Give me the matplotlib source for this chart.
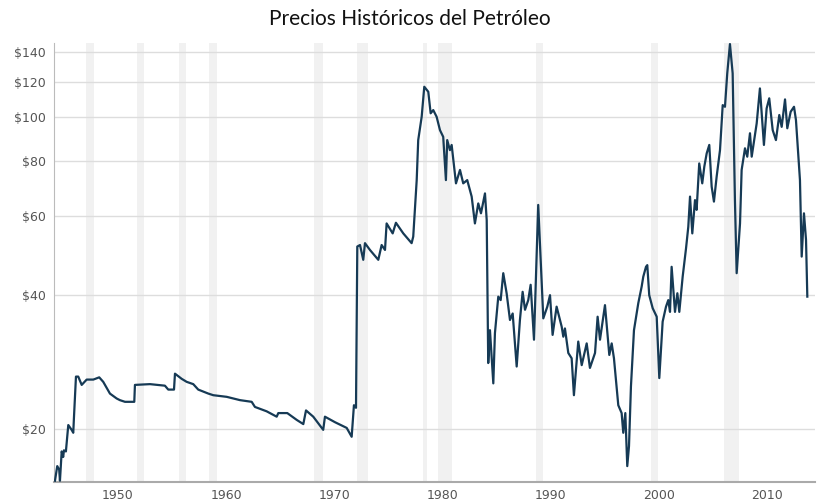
import matplotlib
matplotlib.use("Agg")
import matplotlib.pyplot as plt
from matplotlib.ticker import FixedLocator, NullLocator

# price history (year on the chart's axis, price in $)
years = [
    1944.18, 1944.39, 1944.57, 1944.64, 1944.80, 1944.94, 1945.01, 1945.19, 1945.41, 1945.72,
    1945.87, 1945.93, 1946.12, 1946.33, 1946.65, 1947.11, 1947.72, 1948.27, 1948.64, 1949.26,
    1949.88, 1950.18, 1950.65, 1951.27, 1951.51, 1951.57, 1952.96, 1954.34, 1954.65, 1955.18,
    1955.27, 1955.89, 1956.35, 1956.96, 1957.42, 1958.35, 1958.81, 1960.05, 1961.28, 1962.36,
    1962.66, 1963.74, 1964.67, 1964.82, 1965.65, 1966.52, 1967.13, 1967.38, 1968.05, 1968.97,
    1969.13, 1970.06, 1971.14, 1971.60, 1971.81, 1972.00, 1972.12, 1972.37, 1972.67, 1972.83,
    1973.29, 1974.06, 1974.37, 1974.68, 1974.83, 1975.39, 1975.69, 1976.37, 1977.14, 1977.29,
    1977.61, 1977.75, 1978.07, 1978.31, 1978.68, 1978.90, 1979.14, 1979.45, 1979.76, 1980.06,
    1980.31, 1980.43, 1980.68, 1980.84, 1981.24, 1981.61, 1981.91, 1982.28, 1982.69, 1982.99,
    1983.30, 1983.55, 1983.92, 1984.08, 1984.22, 1984.38, 1984.69, 1984.84, 1985.15, 1985.37,
    1985.61, 1985.92, 1986.23, 1986.48, 1986.85, 1987.15, 1987.40, 1987.62, 1987.92, 1988.14,
    1988.45, 1988.84, 1989.31, 1989.68, 1989.93, 1990.17, 1990.54, 1991.01, 1991.16, 1991.31,
    1991.62, 1991.93, 1992.14, 1992.54, 1992.86, 1993.32, 1993.62, 1994.09, 1994.33, 1994.55,
    1995.01, 1995.41, 1995.63, 1995.84, 1996.24, 1996.55, 1996.70, 1996.89, 1997.07, 1997.23,
    1997.41, 1997.69, 1998.09, 1998.40, 1998.55, 1998.80, 1998.92, 1999.10, 1999.42, 1999.79,
    2000.03, 2000.34, 2000.65, 2000.86, 2001.02, 2001.17, 2001.48, 2001.70, 2001.88, 2002.19,
    2002.50, 2002.71, 2002.87, 2003.08, 2003.33, 2003.48, 2003.72, 2004.00, 2004.19, 2004.41,
    2004.65, 2004.87, 2005.08, 2005.33, 2005.64, 2005.89, 2006.10, 2006.31, 2006.56, 2006.81,
    2007.02, 2007.18, 2007.49, 2007.64, 2007.95, 2008.16, 2008.41, 2008.57, 2009.03, 2009.33,
    2009.70, 2009.95, 2010.19, 2010.51, 2010.81, 2011.12, 2011.34, 2011.65, 2011.86, 2012.17,
    2012.48, 2012.66, 2013.03, 2013.19, 2013.40, 2013.59, 2013.71,
]
prices = [
    15.3, 16.5, 16.2, 15.3, 17.8, 17.3, 17.9, 17.8, 20.4, 19.9,
    19.6, 21.1, 26.2, 26.2, 25.1, 25.8, 25.8, 26.1, 25.5, 24.0,
    23.4, 23.2, 23.0, 23.0, 23.0, 25.1, 25.2, 25.0, 24.5, 24.5,
    26.6, 25.9, 25.5, 25.2, 24.5, 24.0, 23.8, 23.6, 23.2, 23.0,
    22.4, 21.9, 21.3, 21.7, 21.7, 20.95, 20.5, 22.0, 21.3, 19.9,
    21.3, 20.7, 20.1, 19.2, 22.6, 22.3, 51.3, 51.7, 47.9, 52.2,
    50.4, 47.9, 51.7, 50.4, 57.8, 54.9, 58.0, 54.9, 52.2, 54.0,
    72.3, 88.9, 100.3, 117.1, 114.1, 102.1, 103.8, 100.3, 93.6, 90.4,
    72.3, 88.9, 84.4, 86.7, 71.1, 76.2, 71.1, 72.3, 66.4, 57.8,
    64.1, 60.9, 67.5, 58.8, 28.1, 33.3, 25.3, 32.8, 39.6, 38.9,
    44.7, 40.3, 35.1, 36.3, 27.6, 35.1, 40.6, 37.0, 38.9, 42.1,
    31.7, 63.6, 35.4, 37.6, 39.9, 32.5, 37.6, 33.9, 32.2, 33.6,
    29.6, 28.8, 23.8, 31.4, 27.8, 31.1, 27.4, 29.6, 35.7, 31.7,
    37.9, 29.3, 31.1, 28.8, 22.6, 21.7, 19.6, 21.7, 16.5, 18.3,
    24.9, 33.3, 38.3, 41.7, 43.9, 46.2, 46.6, 39.9, 37.3, 35.7,
    26.0, 34.8, 37.6, 38.9, 36.6, 46.2, 36.6, 40.3, 36.6, 43.9,
    50.8, 56.8, 66.4, 54.9, 65.2, 62.0, 78.8, 71.1, 77.5, 83.0,
    86.7, 69.9, 64.7, 73.6, 84.4, 106.5, 105.6, 125.5, 146.0, 125.5,
    65.2, 44.7, 57.8, 76.2, 85.2, 81.6, 92.1, 81.6, 96.9, 116.1,
    86.7, 104.7, 110.3, 93.6, 88.9, 101.2, 95.2, 109.7, 94.5, 102.9,
    105.6, 98.6, 72.3, 48.7, 60.9, 53.1, 39.6,
]

# shaded periods (start, end) on the chart's year axis
band_start = [1947.04, 1951.73, 1955.67, 1958.44, 1968.11, 1972.06, 1978.16, 1979.60, 1988.60, 1999.23, 2006.01]
band_end = [1947.81, 1952.43, 1956.28, 1959.18, 1968.92, 1973.13, 1978.59, 1980.84, 1989.25, 1999.94, 2007.42]

y_ticks = [20, 40, 60, 80, 100, 120, 140]
y_labels = ['$20', '$40', '$60', '$80', '$100', '$120', '$140']
x_ticks = [1950, 1960, 1970, 1980, 1990, 2000, 2010]

W, H = 817, 504
fig = plt.figure(figsize=(W / 100, H / 100), dpi=100)
ax = fig.add_axes([54 / W, 22 / H, (815 - 54) / W, (482 - 43) / H])

for s, e in zip(band_start, band_end):
    ax.axvspan(s, e, color='#f1f1f1', lw=0, zorder=0)

ax.plot(years, prices, color='#163a55', lw=1.6, zorder=3)

ax.set_yscale('log')
ax.set_ylim(15.2, 146.8)
ax.set_xlim(1944.09, 2014.42)
ax.yaxis.set_major_locator(FixedLocator(y_ticks))
ax.yaxis.set_minor_locator(NullLocator())
ax.set_yticklabels(y_labels)
ax.set_xticks(x_ticks)
ax.set_xticklabels([str(t) for t in x_ticks])

ax.grid(axis='y', color='#dddddd', lw=1.0, zorder=1)
ax.tick_params(length=0, labelsize=9, colors='#555555', pad=6)
ax.tick_params(axis='x', pad=5)
for side in ('top', 'right'):
    ax.spines[side].set_visible(False)
ax.spines['left'].set_color('#bbbbbb')
ax.spines['left'].set_linewidth(0.8)
ax.spines['bottom'].set_color('#aaaaaa')
ax.spines['bottom'].set_linewidth(1.5)

fig.text(0.502, 0.963, 'Precios Históricos del Petróleo', ha='center', va='center',
         fontsize=15, family=['Lato', 'DejaVu Sans'], color='#111111')

fig.savefig('out.png', dpi=100)
